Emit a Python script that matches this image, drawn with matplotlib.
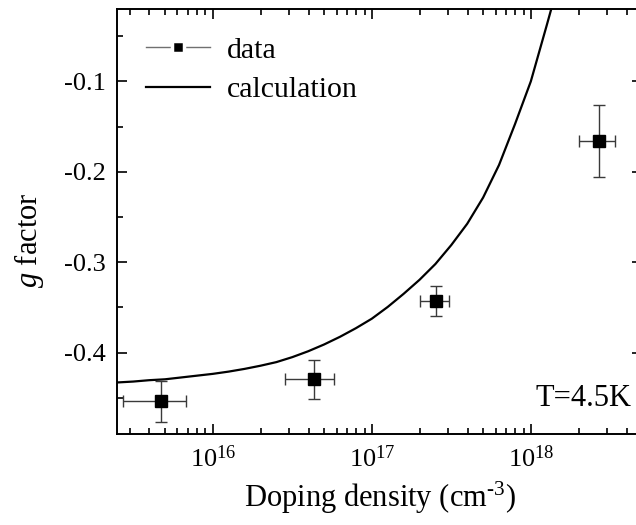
import numpy as np
import matplotlib
matplotlib.use('Agg')
import matplotlib.pyplot as plt
from matplotlib.lines import Line2D
import matplotlib.ticker as tck

# measured g factor vs doping density
density = [4.75e15, 4.31e16, 2.53e17, 2.69e18]
density_lo = [2.73e15, 2.84e16, 2.02e17, 2.02e18]
density_hi = [6.76e15, 5.77e16, 3.06e17, 3.37e18]
g_data = [-0.454, -0.4295, -0.343, -0.166]
g_err = [0.0227, 0.0215, 0.017, 0.040]

# calculated curve, log10 of density (cm^-3) and g
calc_logn = [15.40, 15.50, 15.60, 15.70, 15.80, 15.90, 16.00, 16.10, 16.20,
             16.30, 16.40, 16.50, 16.60, 16.70, 16.80, 16.90, 17.00, 17.10,
             17.20, 17.30, 17.40, 17.50, 17.60, 17.70, 17.80, 17.90, 18.00,
             18.10, 18.16]
calc_g = [-0.433, -0.432, -0.4305, -0.4295, -0.4275, -0.4255, -0.4235, -0.421,
          -0.418, -0.4145, -0.4105, -0.405, -0.3985, -0.391, -0.3825, -0.373,
          -0.3625, -0.3495, -0.335, -0.3195, -0.302, -0.281, -0.2575, -0.2285,
          -0.1925, -0.1475, -0.100, -0.038, 0.0]

plt.rcParams['font.family'] = 'Liberation Serif'
plt.rcParams['mathtext.fontset'] = 'custom'
plt.rcParams['mathtext.rm'] = 'Liberation Serif'
plt.rcParams['mathtext.it'] = 'Liberation Serif:italic'


def main():
    fig = plt.figure(figsize=(6.36, 5.25), dpi=100)
    ax = fig.add_axes([117/636, 91/525, 525/636, 425/525])

    dens = np.array(density)
    xerr = [dens - np.array(density_lo), np.array(density_hi) - dens]
    ax.errorbar(dens, g_data, xerr=xerr, yerr=g_err, fmt='none',
                ecolor='#3a3a3a', elinewidth=1.0, capsize=4, capthick=1.0, zorder=2)
    ax.plot(dens, g_data, 's', color='black', markersize=8, zorder=3)
    ax.plot(10.0**np.array(calc_logn), calc_g, '-', color='black', lw=1.6, zorder=4)

    ax.set_xscale('log')
    ax.set_xlim(2.5e15, 5e18)
    ax.set_ylim(-0.49, -0.02)
    ax.yaxis.set_major_locator(tck.MultipleLocator(0.1))
    ax.yaxis.set_minor_locator(tck.MultipleLocator(0.05))
    ax.yaxis.set_major_formatter(tck.FuncFormatter(lambda v, p: '%.1f' % v))
    ax.xaxis.set_major_locator(tck.LogLocator(base=10, numticks=10))
    ax.xaxis.set_minor_locator(tck.LogLocator(base=10, subs=np.arange(2, 10), numticks=10))
    ax.xaxis.set_minor_formatter(tck.NullFormatter())

    ax.tick_params(which='both', direction='in', top=True, right=True, width=1.2)
    ax.tick_params(which='major', length=7, labelsize=19, pad=8)
    ax.tick_params(which='minor', length=4)
    for s in ax.spines.values():
        s.set_linewidth(1.4)

    ax.set_xlabel(r'Doping density (cm$^{\text{-3}}$)', fontsize=22, labelpad=6)
    ax.set_ylabel(r'$g$ factor', fontsize=22)
    ax.yaxis.set_label_coords(-0.136, 0.456)

    ax.text(0.98, 0.05, 'T=4.5K', transform=ax.transAxes, fontsize=22,
            ha='right', va='bottom')

    h_data = Line2D([], [], color='#707070', lw=1.0, marker='s', markersize=8,
                    markerfacecolor='black', markeredgecolor='white', markeredgewidth=2.5)
    h_calc = Line2D([], [], color='black', lw=1.6)
    ax.legend([h_data, h_calc], ['data', 'calculation'], loc='upper left',
              bbox_to_anchor=(0.055, 0.935), frameon=False, fontsize=21.5,
              borderpad=0, borderaxespad=0, handlelength=2.15, handletextpad=0.55,
              labelspacing=0.42)

    fig.savefig('out.png', dpi=100)
    plt.close(fig)


if __name__ == '__main__':
    main()
